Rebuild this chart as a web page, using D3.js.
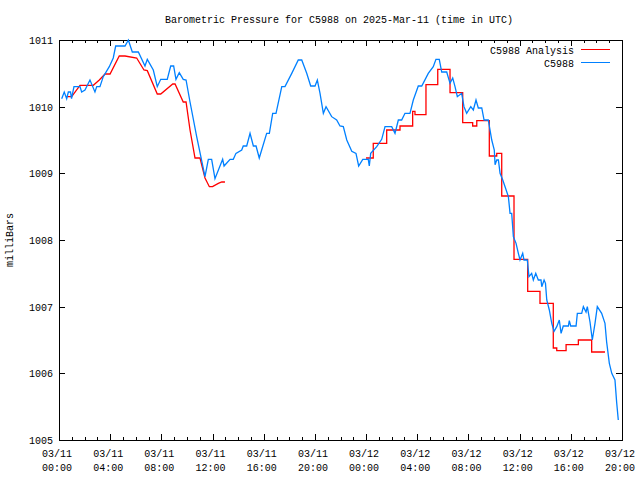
<!DOCTYPE html>
<html><head><meta charset="utf-8">
<script src="https://cdn.jsdelivr.net/npm/d3@7"></script>
<style>body{margin:0;background:#fff}svg{display:block}text{font-family:"Liberation Mono","DejaVu Sans Mono",monospace;font-size:10px;fill:#000}</style>
</head><body><svg id="c" width="640" height="480"></svg>
<script>
// hours since 2025-03-11 00:00 UTC
const obsHours = [0.21,0.41,0.60,0.73,0.90,0.98,1.17,1.64,1.77,2.03,2.42,2.81,2.95,3.20,3.46,3.93,4.24,4.43,5.16,5.42,5.73,6.20,6.72,6.90,7.37,7.68,7.95,8.46,8.73,8.96,9.14,9.40,9.71,9.93,10.24,10.76,11.41,11.67,11.93,12.19,12.79,12.90,13.37,13.62,13.83,14.28,14.40,14.67,14.93,15.19,15.40,15.65,16.23,16.44,16.70,16.96,17.41,17.66,18.19,18.70,18.97,19.36,19.67,20.01,20.19,20.40,20.66,20.87,21.31,21.70,21.96,22.22,22.49,22.88,23.21,23.42,23.74,24.17,24.25,24.36,24.83,25.22,25.48,26.00,26.26,26.52,26.78,27.04,27.43,27.69,28.08,28.35,28.86,29.25,29.46,29.72,29.91,30.30,30.56,30.77,30.95,31.13,31.47,31.65,31.86,32.18,32.38,32.59,32.77,33.04,33.22,33.55,33.82,34.02,34.08,34.21,34.34,34.47,34.68,34.86,35.12,35.25,35.38,35.51,35.72,35.90,36.03,36.24,36.34,36.60,36.73,36.94,37.07,37.26,37.46,37.67,37.73,37.91,38.02,38.12,38.32,38.51,38.69,38.90,39.10,39.24,39.41,39.81,39.88,39.99,40.41,40.51,40.85,40.98,41.19,41.29,41.50,41.68,41.89,42.07,42.41,42.67,42.80,43.01,43.20,43.45,43.58,43.71];
const obsValues = [1010.12,1010.22,1010.12,1010.22,1010.22,1010.12,1010.30,1010.30,1010.22,1010.25,1010.40,1010.22,1010.30,1010.30,1010.45,1010.60,1010.73,1010.91,1010.91,1011.00,1010.82,1010.82,1010.61,1010.71,1010.55,1010.30,1010.41,1010.41,1010.61,1010.61,1010.41,1010.51,1010.41,1010.40,1010.07,1009.55,1008.95,1009.21,1009.21,1008.92,1009.21,1009.11,1009.21,1009.21,1009.30,1009.35,1009.41,1009.41,1009.60,1009.41,1009.41,1009.23,1009.60,1009.60,1009.90,1009.90,1010.30,1010.30,1010.50,1010.70,1010.70,1010.50,1010.31,1010.31,1010.40,1010.20,1009.90,1010.00,1009.85,1009.80,1009.71,1009.70,1009.50,1009.33,1009.30,1009.11,1009.21,1009.21,1009.11,1009.30,1009.40,1009.51,1009.70,1009.70,1009.60,1009.80,1009.80,1009.90,1009.90,1010.10,1010.31,1010.31,1010.50,1010.60,1010.71,1010.71,1010.52,1010.52,1010.35,1010.43,1010.30,1010.15,1010.20,1010.00,1009.90,1010.00,1009.95,1010.10,1009.98,1009.98,1009.80,1009.80,1009.50,1009.35,1009.13,1009.20,1009.20,1009.00,1008.90,1008.80,1008.65,1008.40,1008.40,1008.05,1007.95,1007.80,1007.70,1007.80,1007.70,1007.70,1007.45,1007.50,1007.40,1007.50,1007.40,1007.40,1007.30,1007.40,1007.35,1007.10,1006.95,1006.75,1006.63,1006.70,1006.80,1006.60,1006.71,1006.71,1006.79,1006.71,1006.71,1006.90,1006.90,1007.00,1006.92,1007.00,1006.77,1006.50,1006.75,1007.00,1006.90,1006.75,1006.47,1006.15,1006.00,1005.90,1005.57,1005.30];
// analysis, first part (smooth)
const anaHoursA = [0.55,0.99,1.64,2.68,3.15,3.60,3.99,4.71,5.16,6.07,6.64,6.90,7.68,7.95,8.89,9.07,9.71,9.93,10.24,10.63,11.02,11.41,11.75,12.00,12.45,12.72,12.97];
const anaValuesA = [1010.15,1010.15,1010.32,1010.32,1010.40,1010.49,1010.49,1010.76,1010.76,1010.73,1010.55,1010.54,1010.19,1010.19,1010.34,1010.34,1010.07,1010.07,1009.65,1009.23,1009.23,1008.93,1008.80,1008.80,1008.85,1008.87,1008.87];
// analysis, second part (hourly steps)
const anaHoursB = [23.99,24.56,25.61,26.65,27.64,27.82,28.68,29.60,30.56,31.55,32.33,32.65,33.63,34.21,34.60,35.56,36.63,37.59,38.63,38.90,39.63,40.59,41.63,42.67];
const anaValuesB = [1009.23,1009.45,1009.65,1009.71,1009.93,1009.88,1010.33,1010.56,1010.21,1009.76,1009.71,1009.79,1009.26,1009.30,1008.66,1007.71,1007.23,1007.05,1006.38,1006.34,1006.43,1006.50,1006.32,1006.32];
const yTicks = [1005,1006,1007,1008,1009,1010,1011];
const xTickDates = ["03/11","03/11","03/11","03/11","03/11","03/11","03/12","03/12","03/12","03/12","03/12","03/12"];
const xTickTimes = ["00:00","04:00","08:00","12:00","16:00","20:00","00:00","04:00","08:00","12:00","16:00","20:00"];
const seriesNames = ["C5988 Analysis","C5988"];
const seriesColors = ["#ff0000","#0080ff"];

const svg = d3.select("#c");
const L=59,R=622,T=40,B=440;
const x = d3.scaleLinear().domain([0,44]).range([L,R]);
const y = d3.scaleLinear().domain([1005,1011]).range([B,T]);

svg.append("text").attr("x",339).attr("y",23).attr("text-anchor","middle")
  .text("Barometric Pressure for C5988 on 2025-Mar-11 (time in UTC)");
svg.append("text").attr("transform","translate(13,240) rotate(-90)").attr("text-anchor","middle").text("milliBars");

const g = svg.append("g").attr("shape-rendering","crispEdges");
// minor x ticks hourly, major every 4h (bottom and top)
d3.range(0,45).forEach(h=>{
  const len = h%4===0 ? 6 : 3;
  const xx = Math.round(x(h))+0.5;
  g.append("line").attr("x1",xx).attr("x2",xx).attr("y1",B).attr("y2",B-len).attr("stroke","#000");
  g.append("line").attr("x1",xx).attr("x2",xx).attr("y1",T).attr("y2",T+len).attr("stroke","#000");
});
yTicks.forEach(v=>{
  const yy = Math.round(y(v))+0.5;
  g.append("line").attr("x1",L).attr("x2",L+6).attr("y1",yy).attr("y2",yy).attr("stroke","#000");
  g.append("line").attr("x1",R).attr("x2",R-6).attr("y1",yy).attr("y2",yy).attr("stroke","#000");
  svg.append("text").attr("x",53).attr("y",y(v)+4).attr("text-anchor","end").text(v);
});
xTickDates.forEach((d,i)=>{
  const cx = x(i*4)-2;
  const t = svg.append("text").attr("text-anchor","middle");
  t.append("tspan").attr("x",cx).attr("y",457).text(d);
  t.append("tspan").attr("x",cx).attr("y",471).text(xTickTimes[i]);
});

const line = d3.line().x(d=>x(d[0])).y(d=>y(d[1]));
const stepLine = d3.line().x(d=>x(d[0])).y(d=>y(d[1])).curve(d3.curveStepAfter);
const obs = obsHours.map((h,i)=>[h,obsValues[i]]);
const anaA = anaHoursA.map((h,i)=>[h,anaValuesA[i]]);
const anaB = anaHoursB.map((h,i)=>[h,anaValuesB[i]]);
svg.append("path").attr("d",line(anaA)).attr("fill","none").attr("stroke",seriesColors[0]).attr("stroke-width",1.3);
svg.append("path").attr("d",stepLine(anaB)).attr("fill","none").attr("stroke",seriesColors[0]).attr("stroke-width",1.3);
svg.append("path").attr("d",line(obs)).attr("fill","none").attr("stroke",seriesColors[1]).attr("stroke-width",1.3);

g.append("rect").attr("x",L+0.5).attr("y",T+0.5).attr("width",R-L).attr("height",B-T).attr("fill","none").attr("stroke","#000");

seriesNames.forEach((n,i)=>{
  const yy = 49.5 + i*13;
  svg.append("text").attr("x",574).attr("y",yy+4).attr("text-anchor","end").text(n);
  g.append("line").attr("x1",581).attr("x2",610).attr("y1",yy).attr("y2",yy).attr("stroke",seriesColors[i]);
});
</script></body></html>
